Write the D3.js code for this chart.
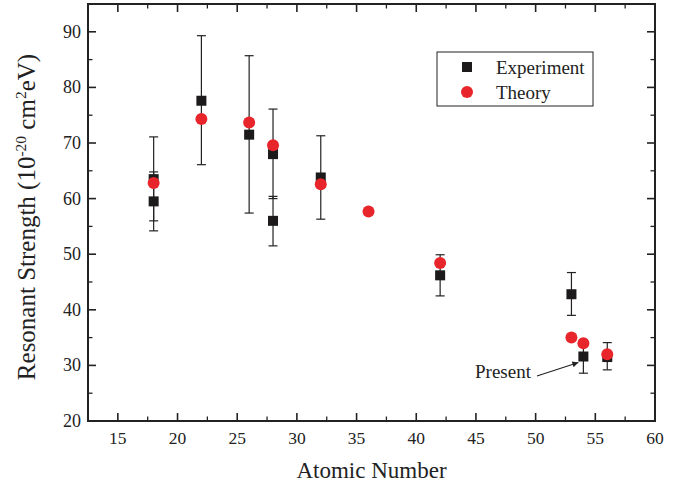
<!DOCTYPE html>
<html>
<head>
<meta charset="utf-8">
<script src="https://cdn.jsdelivr.net/npm/d3@7"></script>
<style>
  body { margin: 0; background: #fff; }
  text { font-family: "Liberation Serif", "Times New Roman", serif; fill: #222; }
</style>
</head>
<body>
<div id="chart"></div>
<script>
// experiment values (atomic number, strength, error bar low / high)
var expZ    = [18, 18, 22, 26, 28, 28, 32, 42, 53, 54, 56];
var expVal  = [63.5, 59.5, 77.6, 71.5, 68.0, 56.0, 63.8, 46.2, 42.8, 31.6, 31.5];
var expLow  = [56.0, 54.2, 66.1, 57.4, 60.0, 51.5, 56.3, 42.5, 39.0, 28.6, 29.2];
var expHigh = [71.1, 64.8, 89.3, 85.7, 76.1, 60.4, 71.3, 49.9, 46.7, 34.6, 34.1];

// theory values
var theoryZ   = [18, 22, 26, 28, 32, 36, 42, 53, 54, 56];
var theoryVal = [62.8, 74.3, 73.7, 69.6, 62.6, 57.7, 48.4, 35.0, 34.0, 32.0];

var xTicks = [15, 20, 25, 30, 35, 40, 45, 50, 55, 60];
var yTicks = [20, 30, 40, 50, 60, 70, 80, 90];

var width = 685, height = 489;
var margin = {top: 4, right: 30, bottom: 68, left: 88};

var svg = d3.select("#chart").append("svg")
    .attr("width", width)
    .attr("height", height);

var x = d3.scaleLinear().domain([12.5, 60]).range([margin.left, width - margin.right]);
var y = d3.scaleLinear().domain([20, 95]).range([height - margin.bottom, margin.top]);

var x0 = x.range()[0], x1 = x.range()[1];
var y0 = y.range()[0], y1 = y.range()[1];

// ticks inside the frame, on all four sides
var xMinor = d3.range(15, 60, 2.5).filter(function(v){ return xTicks.indexOf(v) < 0; });
var yMinor = d3.range(25, 95, 10);

var tickG = svg.append("g").attr("stroke", "#222");
function hTick(v, len, w) {
    tickG.append("line").attr("x1", x(v)).attr("x2", x(v)).attr("y1", y0).attr("y2", y0 - len).attr("stroke-width", w);
    tickG.append("line").attr("x1", x(v)).attr("x2", x(v)).attr("y1", y1).attr("y2", y1 + len).attr("stroke-width", w);
}
function vTick(v, len, w) {
    tickG.append("line").attr("y1", y(v)).attr("y2", y(v)).attr("x1", x0).attr("x2", x0 + len).attr("stroke-width", w);
    tickG.append("line").attr("y1", y(v)).attr("y2", y(v)).attr("x1", x1).attr("x2", x1 - len).attr("stroke-width", w);
}
xTicks.forEach(function(v){ if (v < 60) hTick(v, 8, 1.6); });
xMinor.forEach(function(v){ hTick(v, 4.5, 1.3); });
yTicks.forEach(function(v){ if (v > 20) vTick(v, 8, 1.6); });
yMinor.forEach(function(v){ vTick(v, 4.5, 1.3); });

// frame
svg.append("rect")
    .attr("x", x0).attr("y", y1)
    .attr("width", x1 - x0).attr("height", y0 - y1)
    .attr("fill", "none").attr("stroke", "#222").attr("stroke-width", 2);

// tick labels
svg.selectAll(".xl").data(xTicks).enter().append("text")
    .attr("x", function(d){ return x(d); })
    .attr("y", y0 + 23)
    .attr("text-anchor", "middle")
    .attr("font-size", 17.5)
    .text(function(d){ return d; });

svg.selectAll(".yl").data(yTicks).enter().append("text")
    .attr("x", x0 - 7)
    .attr("y", function(d){ return y(d) + 6; })
    .attr("text-anchor", "end")
    .attr("font-size", 18)
    .text(function(d){ return d; });

// axis titles
svg.append("text")
    .attr("x", (x0 + x1) / 2)
    .attr("y", 478)
    .attr("text-anchor", "middle")
    .attr("font-size", 23)
    .text("Atomic Number");

var yt = svg.append("text")
    .attr("transform", "translate(35,217) rotate(-90)")
    .attr("text-anchor", "middle")
    .attr("font-size", 25);
yt.append("tspan").text("Resonant Strength (10");
yt.append("tspan").attr("font-size", 15.5).attr("dy", -9.5).text("-20");
yt.append("tspan").attr("dy", 9.5).text(" cm");
yt.append("tspan").attr("font-size", 15.5).attr("dy", -9.5).text("2");
yt.append("tspan").attr("dy", 9.5).text("eV)");

// experiment data with error bars
var expData = expZ.map(function(z, i){
    return {z: z, v: expVal[i], lo: expLow[i], hi: expHigh[i]};
});
var theoryData = theoryZ.map(function(z, i){ return {z: z, v: theoryVal[i]}; });

var eb = svg.append("g").attr("stroke", "#222").attr("stroke-width", 1.2);
expData.forEach(function(d){
    eb.append("line").attr("x1", x(d.z)).attr("x2", x(d.z)).attr("y1", y(d.lo)).attr("y2", y(d.hi));
    eb.append("line").attr("x1", x(d.z) - 4.5).attr("x2", x(d.z) + 4.5).attr("y1", y(d.lo)).attr("y2", y(d.lo));
    eb.append("line").attr("x1", x(d.z) - 4.5).attr("x2", x(d.z) + 4.5).attr("y1", y(d.hi)).attr("y2", y(d.hi));
});

var sq = 10;
svg.selectAll(".exp").data(expData).enter().append("rect")
    .attr("x", function(d){ return x(d.z) - sq / 2; })
    .attr("y", function(d){ return y(d.v) - sq / 2; })
    .attr("width", sq).attr("height", sq)
    .attr("fill", "#1c1a1a");

svg.selectAll(".th").data(theoryData).enter().append("circle")
    .attr("cx", function(d){ return x(d.z); })
    .attr("cy", function(d){ return y(d.v); })
    .attr("r", 6)
    .attr("fill", "#e8252b");

// "Present" annotation
svg.append("defs").append("marker")
    .attr("id", "arr").attr("viewBox", "0 0 10 10")
    .attr("refX", 10).attr("refY", 5)
    .attr("markerWidth", 11).attr("markerHeight", 6)
    .attr("markerUnits", "userSpaceOnUse")
    .attr("orient", "auto")
    .append("path").attr("d", "M0,0 L10,5 L0,10 Z").attr("fill", "#222");

svg.append("text")
    .attr("x", 475).attr("y", 378)
    .attr("font-size", 19)
    .text("Present");
svg.append("line")
    .attr("x1", 537).attr("y1", 376)
    .attr("x2", x(54) - 5).attr("y2", y(31.6) + 6)
    .attr("stroke", "#222").attr("stroke-width", 1.2)
    .attr("marker-end", "url(#arr)");

// legend
var lg = svg.append("g");
lg.append("rect")
    .attr("x", 437).attr("y", 52).attr("width", 156).attr("height", 54)
    .attr("fill", "#fff").attr("stroke", "#222").attr("stroke-width", 1);
lg.append("rect").attr("x", 462).attr("y", 62).attr("width", sq).attr("height", sq).attr("fill", "#1c1a1a");
lg.append("circle").attr("cx", 467).attr("cy", 92).attr("r", 6).attr("fill", "#e8252b");
lg.append("text").attr("x", 496).attr("y", 74).attr("font-size", 19).text("Experiment");
lg.append("text").attr("x", 496).attr("y", 99).attr("font-size", 19).text("Theory");
</script>
</body>
</html>
